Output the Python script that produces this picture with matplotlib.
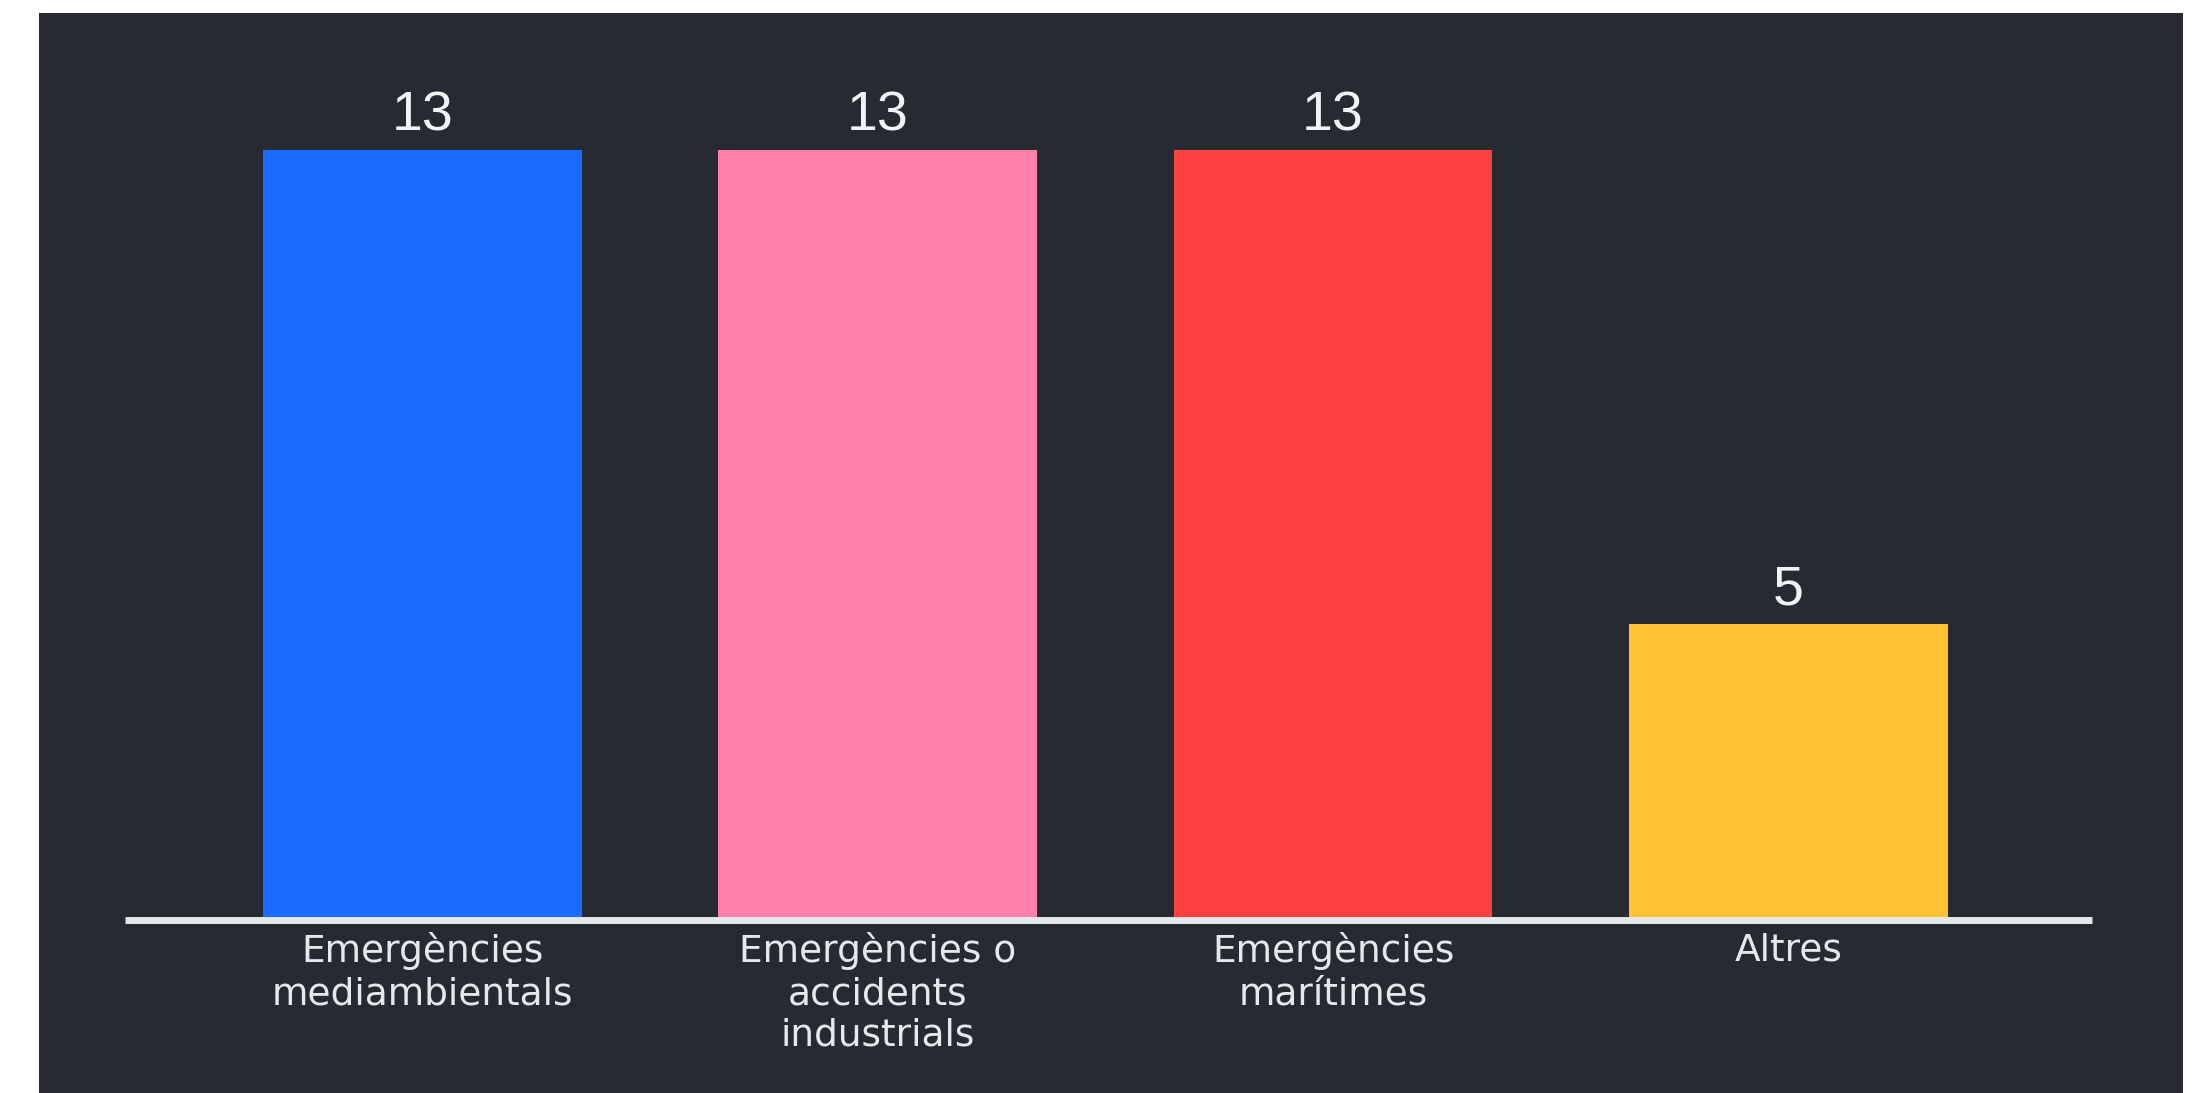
import matplotlib

matplotlib.use("Agg")
import matplotlib.pyplot as plt
from matplotlib.patches import Rectangle

# data
categories = [
    "Emergències\nmediambientals",
    "Emergències o\naccidents\nindustrials",
    "Emergències\nmarítimes",
    "Altres",
]
values = [13, 13, 13, 5]
colors = ["#1a6bff", "#ff80aa", "#ff4040", "#ffc233"]

BG = "#272a33"
FG = "#e6e8ec"

fig = plt.figure(figsize=(21.98, 10.93), dpi=100, facecolor="white")
W, H = 2198, 1093

# dark panel (reference has a thin white margin top/left/right)
fig.patches.append(
    Rectangle((39 / W, 0), (2183 - 39) / W, (H - 13) / H,
              transform=fig.transFigure, facecolor=BG, edgecolor="none", zorder=-10)
)

base_y = 920
px_per_unit = 59.23
ax = fig.add_axes([125 / W, (H - base_y) / H, (2092 - 125) / W, 14 * px_per_unit / H])
ax.set_facecolor("none")
ax.set_zorder(1)

x = list(range(len(values)))
ax.bar(x, values, width=0.7, color=colors, zorder=2)
ax.axhline(0, color=FG, linewidth=5, solid_capstyle="butt", zorder=3, clip_on=False)

ax.set_xlim(-0.6534, 3.6668)
ax.set_ylim(0, 14)

for xi, v in zip(x, values):
    ax.annotate(str(v), (xi, v), xytext=(0, 14), textcoords="offset points",
                ha="center", va="baseline", color="#f2f3f5", fontsize=40,
                family="Liberation Sans")

ax.set_xticks(x)
ax.set_xticklabels(categories, color=FG, fontsize=27, family="DejaVu Sans",
                   linespacing=1.2)
ax.tick_params(axis="x", length=0, pad=9)
ax.set_yticks([])
for s in ax.spines.values():
    s.set_visible(False)

fig.savefig("out.png", dpi=100, facecolor=fig.get_facecolor())
